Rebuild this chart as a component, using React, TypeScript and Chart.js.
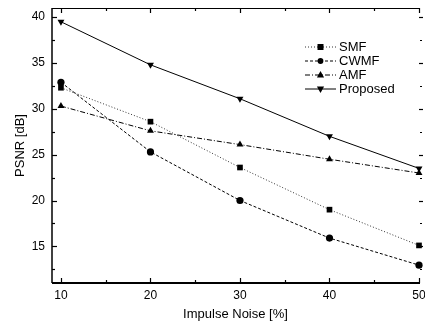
import React, { useEffect, useRef } from "react";
import { Chart, registerables } from "chart.js";

Chart.register(...registerables);

const noiseLevels = [10, 20, 30, 40, 50];
const smf = [32.3, 28.6, 23.6, 19.0, 15.1];
const cwmf = [32.9, 25.3, 20.0, 15.9, 12.95];
const amf = [30.3, 27.6, 26.1, 24.5, 23.0];
const proposed = [39.5, 34.8, 31.1, 27.0, 23.5];

const xTicks = [10, 20, 30, 40, 50];
const xMinorTicks = [15, 25, 35, 45];
const yTicks = [15, 20, 25, 30, 35, 40];
const yMinorTicks = [12.5, 17.5, 22.5, 27.5, 32.5, 37.5];

const seriesNames = ["SMF", "CWMF", "AMF", "Proposed"];
const FONT = "Arial, 'Liberation Sans', sans-serif";

const framePlugin = {
  id: "frameAndLegend",
  afterDraw(chart: any) {
    const { ctx, chartArea: a, scales } = chart;
    const xs = scales.x;
    const ys = scales.y;
    ctx.save();
    ctx.strokeStyle = "#000";
    ctx.setLineDash([]);
    ctx.lineWidth = 1.5;
    ctx.beginPath();
    ctx.moveTo(a.left, a.top);
    ctx.lineTo(a.left, a.bottom);
    ctx.stroke();
    ctx.lineWidth = 2;
    ctx.beginPath();
    ctx.moveTo(a.left, a.bottom);
    ctx.lineTo(a.right + 1, a.bottom);
    ctx.stroke();
    ctx.lineWidth = 1;
    ctx.beginPath();
    ctx.moveTo(a.left, a.top + 0.5);
    ctx.lineTo(a.right + 1, a.top + 0.5);
    ctx.stroke();
    ctx.lineWidth = 1.2;
    const tick = (x1: number, y1: number, x2: number, y2: number) => {
      ctx.beginPath();
      ctx.moveTo(x1, y1);
      ctx.lineTo(x2, y2);
      ctx.stroke();
    };
    xTicks.forEach((v) => {
      const px = Math.round(xs.getPixelForValue(v)) + 0.5;
      tick(px, a.bottom, px, a.bottom - 5);
      tick(px, a.top, px, a.top + 5);
    });
    xMinorTicks.forEach((v) => {
      const px = Math.round(xs.getPixelForValue(v)) + 0.5;
      tick(px, a.bottom, px, a.bottom - 3);
      tick(px, a.top, px, a.top + 3);
    });
    yTicks.forEach((v) => {
      const py = Math.round(ys.getPixelForValue(v)) + 0.5;
      tick(a.left, py, a.left + 5, py);
      tick(a.right + 4, py, a.right, py);
    });
    yMinorTicks.forEach((v) => {
      const py = Math.round(ys.getPixelForValue(v)) + 0.5;
      tick(a.left, py, a.left + 3, py);
      tick(a.right + 3, py, a.right + 1, py);
    });

    const x0 = a.right - 114;
    const x1 = a.right - 83;
    const textX = a.right - 80;
    ctx.font = `13px ${FONT}`;
    ctx.textBaseline = "middle";
    ctx.textAlign = "left";
    chart.data.datasets.forEach((ds: any, i: number) => {
      const y = a.top + 39 + i * 14;
      ctx.strokeStyle = ds.borderColor;
      ctx.lineWidth = ds.borderWidth;
      ctx.setLineDash(ds.borderDash || []);
      tick(x0, y, x1, y);
      ctx.setLineDash([]);
      ctx.fillStyle = "#000";
      const cx = (x0 + x1) / 2;
      const r = ds.pointRadius;
      ctx.beginPath();
      if (ds.pointStyle === "rect") {
        ctx.rect(cx - r * 0.75, y - r * 0.75, r * 1.5, r * 1.5);
      } else if (ds.pointStyle === "circle") {
        ctx.arc(cx, y, r * 0.8, 0, Math.PI * 2);
      } else if (ds.pointStyle === "triangle") {
        const dir = ds.pointRotation === 180 ? -1 : 1;
        ctx.moveTo(cx, y - dir * r);
        ctx.lineTo(cx - r * 0.9, y + dir * r * 0.6);
        ctx.lineTo(cx + r * 0.9, y + dir * r * 0.6);
        ctx.closePath();
      }
      ctx.fill();
      ctx.fillText(ds.label, textX, y);
    });
    ctx.restore();
  },
};

export default function App() {
  const ref = useRef<HTMLCanvasElement | null>(null);

  useEffect(() => {
    document.body.style.margin = "0";
    const canvas = ref.current;
    if (!canvas) return;
    const mk = (
      label: string,
      data: number[],
      dash: number[],
      style: string,
      rot = 0,
      color = "#000",
      radius = 4
    ) => ({
      label,
      data: noiseLevels.map((x, i) => ({ x, y: data[i] })),
      borderColor: color,
      backgroundColor: "#000",
      borderWidth: 1,
      borderDash: dash,
      pointStyle: style,
      pointRotation: rot,
      pointRadius: radius,
      pointBorderWidth: 0,
      pointBackgroundColor: "#000",
      tension: 0,
      fill: false,
      clip: false as any,
    });
    const chart = new Chart(canvas, {
      type: "line",
      data: {
        datasets: [
          mk(seriesNames[0], smf, [1, 2], "rect", 0, "#333", 4),
          mk(seriesNames[1], cwmf, [3, 2], "circle", 0, "#000", 3.6),
          mk(seriesNames[2], amf, [5, 2, 1, 2], "triangle", 0, "#000", 4),
          mk(seriesNames[3], proposed, [], "triangle", 180, "#000", 4),
        ],
      },
      options: {
        responsive: false,
        animation: false,
        layout: { padding: { top: 8, right: 6, left: 0, bottom: 0 } },
        plugins: {
          legend: { display: false },
          tooltip: { enabled: false },
        },
        scales: {
          x: {
            type: "linear",
            min: 9,
            max: 50,
            grid: { display: false, drawTicks: false },
            border: { display: false },
            afterBuildTicks: (s: any) => {
              s.ticks = xTicks.map((v) => ({ value: v }));
            },
            afterFit: (s: any) => {
              s.height = 39;
              s.paddingLeft = 0;
              s.paddingRight = 0;
            },
            ticks: {
              color: "#000",
              padding: 5,
              font: { family: FONT, size: 12 },
              autoSkip: false,
              maxRotation: 0,
            },
            title: {
              display: true,
              text: "Impulse Noise [%]",
              color: "#000",
              font: { family: FONT, size: 13 },
              padding: { top: 0, bottom: 0 },
            },
          },
          y: {
            type: "linear",
            min: 11,
            max: 41,
            grid: { display: false, drawTicks: false },
            border: { display: false },
            afterBuildTicks: (s: any) => {
              s.ticks = yTicks.map((v) => ({ value: v }));
            },
            afterFit: (s: any) => {
              s.width = 52;
              s.paddingTop = 0;
              s.paddingBottom = 0;
            },
            ticks: {
              color: "#000",
              padding: 7,
              font: { family: FONT, size: 12 },
              autoSkip: false,
            },
            title: {
              display: true,
              text: "PSNR [dB]",
              color: "#000",
              font: { family: FONT, size: 13 },
              padding: { top: 13, bottom: 0 },
            },
          },
        },
      },
      plugins: [framePlugin],
    });
    return () => chart.destroy();
  }, []);

  return (
    <div style={{ width: 425, height: 322 }}>
      <canvas ref={ref} width={425} height={322} style={{ display: "block" }} />
    </div>
  );
}
